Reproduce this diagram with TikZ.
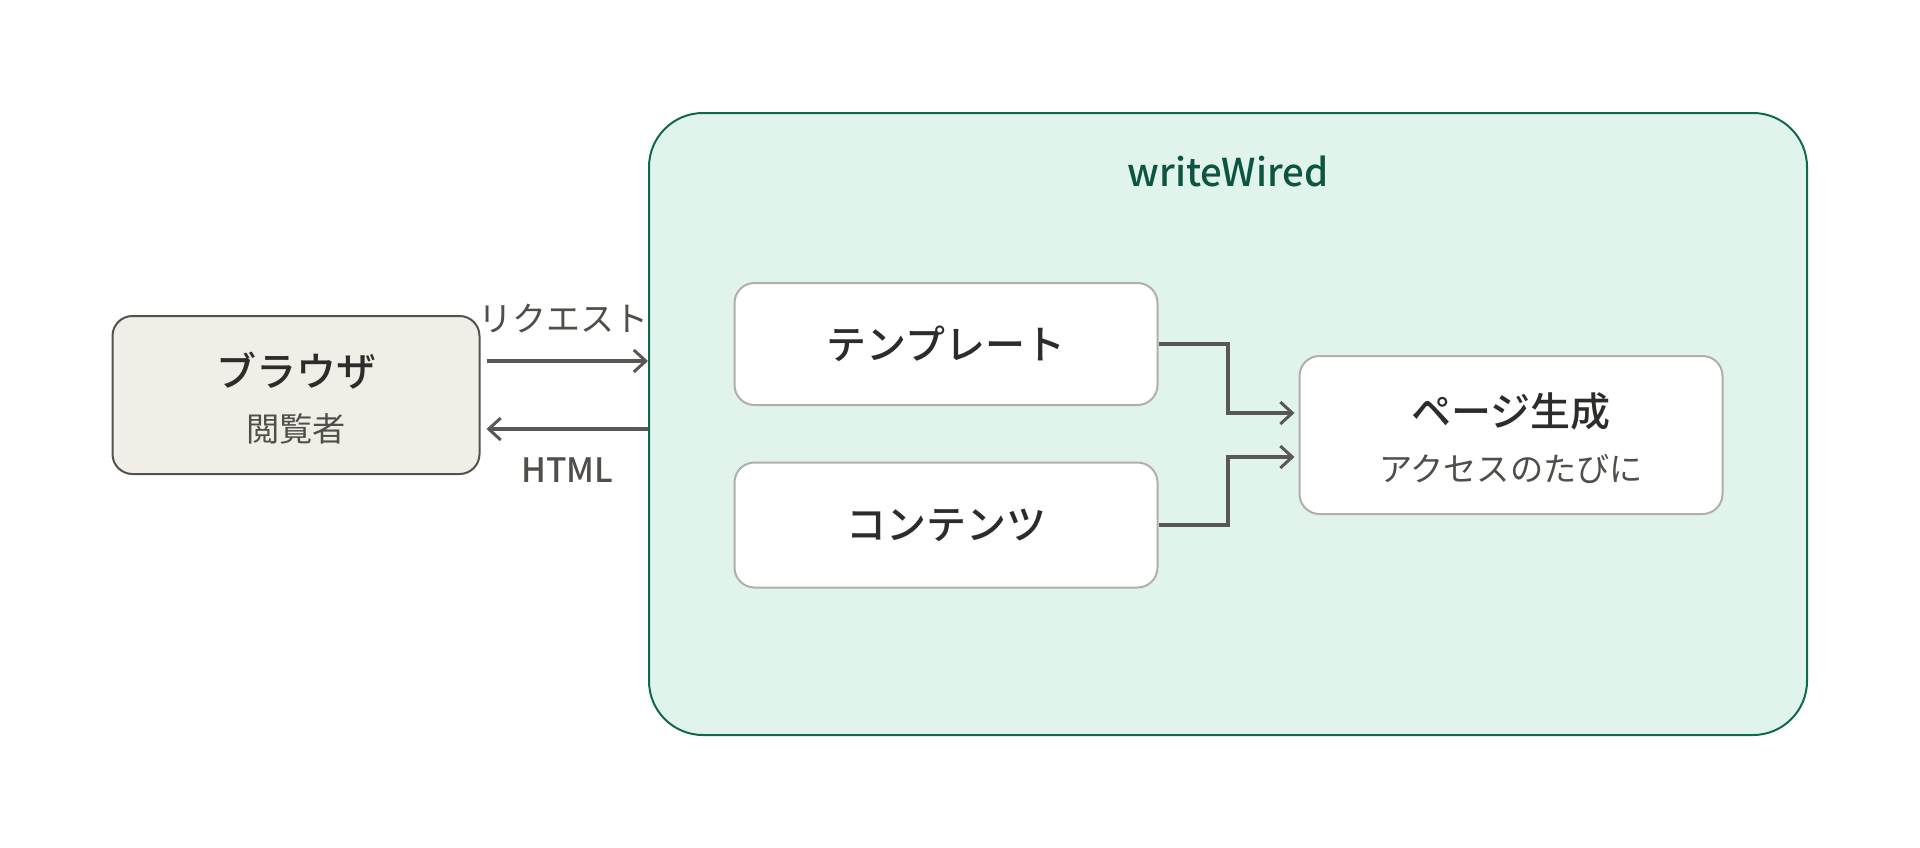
\documentclass[tikz,border=0pt]{standalone}
\usepackage{fontspec}
\setmainfont{Noto Sans CJK JP}[BoldFont={Noto Sans CJK JP Medium}]
\usetikzlibrary{arrows.meta, positioning}
\definecolor{inkdark}{HTML}{2E2C2A}
\definecolor{inkgray}{HTML}{514D49}
\definecolor{linegray}{HTML}{5A5855}
\definecolor{paper}{HTML}{F1EEE8}
\definecolor{paperedge}{HTML}{55524E}
\definecolor{mint}{HTML}{E1F4EC}
\definecolor{forest}{HTML}{11684E}
\definecolor{forestdk}{HTML}{0E5442}
\definecolor{cardedge}{HTML}{B0AFA8}

\begin{document}
\begin{tikzpicture}[
  x=0.5pt, y=-0.5pt,
  >={Straight Barb[length=6pt, width=11pt, line width=1.5pt]},
  userbox/.style={
    draw=paperedge, line width=1pt, fill=paper, rounded corners=10pt,
    minimum width=183.5pt, minimum height=79pt
  },
  card/.style={
    draw=cardedge, line width=1pt, fill=white, rounded corners=10pt,
    minimum width=211.5pt, minimum height=#1
  },
  titletext/.style={font=\fontsize{20}{23}\selectfont\bfseries, text=inkdark},
  subtext/.style={font=\fontsize{16.6}{19}\selectfont, text=inkgray},
  flowlabel/.style={font=\fontsize{17}{19}\selectfont, text=inkgray},
  arr/.style={->, line width=1.6pt, linegray},
]

% ============================================================
% Canvas
% ============================================================
\useasboundingbox (0,0) rectangle (1920,847);

% ============================================================
% writeWired system frame
% ============================================================
\node[draw=forest, line width=1pt, fill=mint, rounded corners=27pt,
      minimum width=579pt, minimum height=311pt] (system) at (1228,424) {};
\node[font=\fontsize{19.2}{22}\selectfont\bfseries, text=forestdk]
  (system-title) at (1228,171) {writeWired};

% ============================================================
% Browser (visitor)
% ============================================================
\node[userbox] (browser) at (296,395) {};
\node[titletext] (browser-title) at (296,371) {ブラウザ};
\node[subtext] (browser-sub) at (296,429) {閲覧者};

% ============================================================
% Inputs: template and content
% ============================================================
\node[card=61pt] (template) at (946,344) {};
\node[titletext] at (template) {テンプレート};

\node[card=62.5pt] (content) at (946,525) {};
\node[titletext] at (content) {コンテンツ};

% ============================================================
% Page generation
% ============================================================
\node[card=79pt] (pagegen) at (1511,435) {};
\node[titletext] (pagegen-title) at (1511,411) {ページ生成};
\node[subtext] (pagegen-sub) at (1511,469) {アクセスのたびに};

% ============================================================
% Request / response between browser and system
% ============================================================
\draw[arr] ([xshift=3pt]browser.east |- 0,361) -- (system.west |- 0,361)
  node[midway, above=10pt, xshift=-2pt, flowlabel] {リクエスト};
\draw[arr] (system.west |- 0,429) -- ([xshift=3pt]browser.east |- 0,429)
  node[midway, below=10pt, flowlabel, font=\fontsize{16.8}{19}\selectfont\bfseries] {HTML};

% ============================================================
% Inputs merge into page generation
% ============================================================
\draw[arr] (template.east) -- (1228,344) -- (1228,413) -- ([xshift=-2pt]pagegen.west |- 0,413);
\draw[arr] (content.east) -- (1228,525) -- (1228,457) -- ([xshift=-2pt]pagegen.west |- 0,457);

\end{tikzpicture}
\end{document}
